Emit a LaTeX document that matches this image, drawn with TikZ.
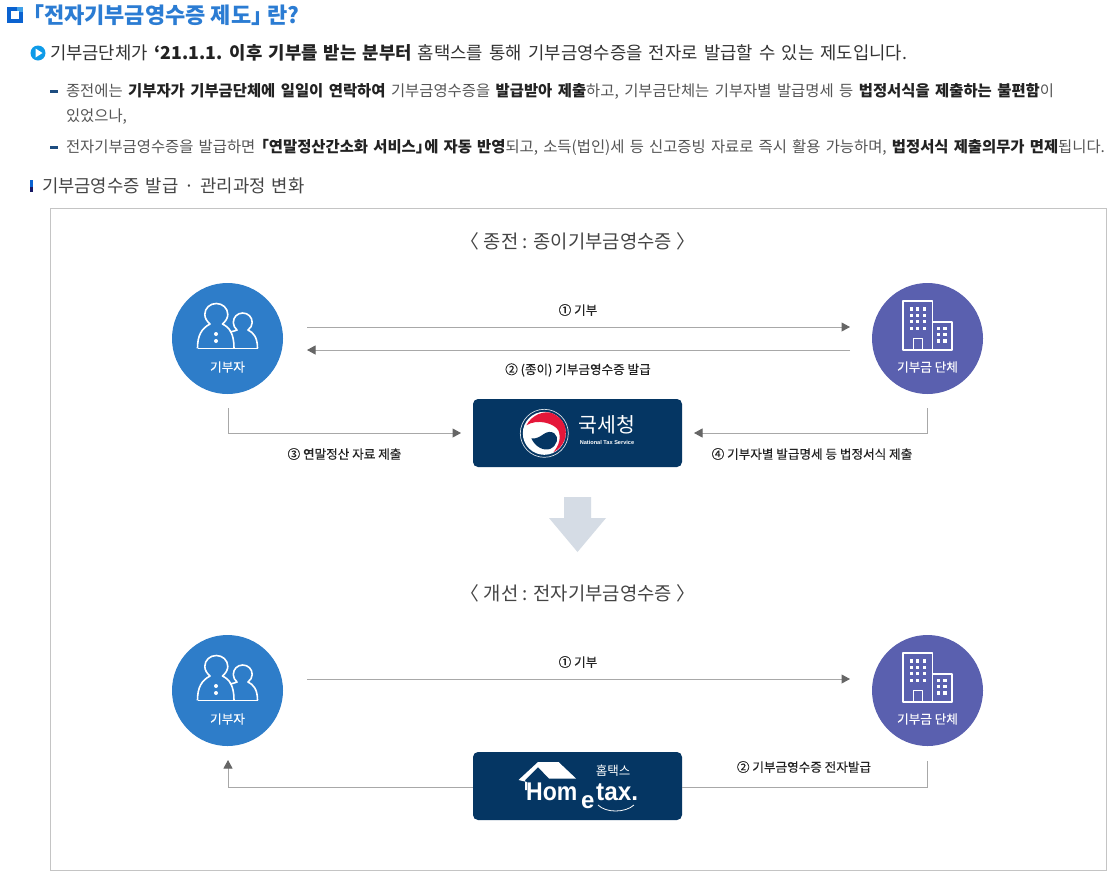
\documentclass[tikz,border=0pt]{standalone}
\usepackage{fontspec}
\setmainfont{Noto Sans CJK KR}
\newfontfamily\medfont{Noto Sans CJK KR}[FakeBold=0.25]
\newfontfamily\latinb{Liberation Sans}[BoldFont={Liberation Sans Bold}]
\usetikzlibrary{arrows.meta}
\definecolor{headblue}{HTML}{2B7CD3}
\definecolor{squareblue}{HTML}{0A62D0}
\definecolor{squarelight}{HTML}{3FA0E8}
\definecolor{bulletblue}{HTML}{0E9BE8}
\definecolor{dashblue}{HTML}{1D4D80}
\definecolor{bodygray}{HTML}{555555}
\definecolor{titlegray}{HTML}{444444}
\definecolor{darktext}{HTML}{222222}
\definecolor{panelline}{HTML}{C4C4C4}
\definecolor{donorblue}{HTML}{2E7DC9}
\definecolor{orgpurple}{HTML}{5A60AF}
\definecolor{navy}{HTML}{053663}
\definecolor{linegray}{HTML}{A8A8A8}
\definecolor{tipgray}{HTML}{666666}
\definecolor{bigarrow}{HTML}{D5DCE5}
\definecolor{tgred}{HTML}{E5173A}
\newcommand{\bb}[1]{{\bfseries\color{darktext}#1}}
\tikzset{
  x=1pt,y=-1pt,
  txt/.style={anchor=base west,inner sep=0pt,outer sep=0pt},
  bodyl/.style={txt,font=\fontsize{15.4}{18}\selectfont\spaceskip 5.5pt\relax,text=bodygray},
  circ/.style={circle,minimum size=111pt,inner sep=0pt},
  clabel/.style={anchor=center,inner sep=0pt,text=white,font=\medfont\fontsize{12.6}{14}\selectfont},
  plabel/.style={anchor=center,inner sep=0pt,text=darktext,font=\medfont\fontsize{12.6}{14}\selectfont},
  ptitle/.style={anchor=center,inner sep=0pt,text=titlegray,font=\fontsize{18.8}{20}\selectfont},
  logobox/.style={fill=navy,rounded corners=5pt,minimum width=209pt,minimum height=68pt,inner sep=0pt},
  conn/.style={draw=linegray,line width=1pt},
  tipped/.style={conn,-{Triangle[length=8.5pt,width=9pt,fill=tipgray,color=tipgray]}},
  iconline/.style={draw=white,line width=1.6pt,line join=round},
}
\newcommand{\donoricon}[2]{%
\begin{scope}[shift={(#1,#2)}]
 \draw[iconline] (-30,9.8) -- (30,9.8);
 \draw[iconline] (-30,9.8) .. controls (-30,-3) and (-26,-10) .. (-17.5,-14.5)
   .. controls (-20.5,-17) and (-22.7,-20.5) .. (-22.7,-24)
   .. controls (-22.7,-30.5) and (-17.5,-35) .. (-11.2,-35)
   .. controls (-5,-35) and (0.3,-30.5) .. (0.3,-24)
   .. controls (0.3,-20.5) and (-2,-17) .. (-5,-14.5)
   .. controls (2,-11) and (6.5,-5) .. (6.5,9.8);
 \draw[iconline] (2.5,-6.5) .. controls (5,-7) and (7,-7.5) .. (9.5,-8.5)
   .. controls (7.3,-10.5) and (5.8,-13) .. (5.8,-16)
   .. controls (5.8,-21.5) and (10,-25.5) .. (15.2,-25.5)
   .. controls (20.5,-25.5) and (24.7,-21.5) .. (24.7,-16)
   .. controls (24.7,-13) and (23,-10.5) .. (20.5,-8.5)
   .. controls (26,-6) and (30,-1) .. (30,9.8);
 \fill[white] (-11.5,-4.5) circle (2pt) (-11.5,2.5) circle (2pt);
\end{scope}}
\newcommand{\orgicon}[2]{%
\begin{scope}[shift={(#1,#2)}]
 \draw[iconline] (-24.8,-37.8) rectangle (4.8,11.5);
 \draw[iconline] (4.8,-16.8) rectangle (24.5,11.5);
 \draw[iconline] (-14.2,11.5) -- (-14.2,-0.2) -- (-5.2,-0.2) -- (-5.2,11.5);
 \foreach \xx in {-18,-11.5,-4.8}{\foreach \yy in {-31.2,-24.5,-18.5,-11.8}{
   \fill[white] (\xx,\yy) rectangle ++(3.4,3.4);}}
 \foreach \xx in {9.2,15.8}{\foreach \yy in {-11.8,-5.8,0.8}{
   \fill[white] (\xx,\yy) rectangle ++(3.4,3.4);}}
\end{scope}}
\begin{document}
\begin{tikzpicture}
\useasboundingbox (0,0) rectangle (1110,876);
\fill[white] (0,0) rectangle (1110,876);
% header decorations
\fill[squareblue] (7,7) rectangle (23,23);
\fill[squarelight] (17,7) rectangle (23,12);
\fill[white] (11,11) rectangle (18.5,18.5);
\fill[bulletblue] (38,53) circle (7.5pt);
\fill[white] (35.5,48.5) -- (42.5,53) -- (35.5,57.5) -- cycle;
\fill[dashblue] (50,90) rectangle (58,92.5);
\fill[dashblue] (50,146) rectangle (58,148.5);
\fill[squareblue] (30,180) rectangle (33,187);
\fill[darktext!70!blue] (30,187) rectangle (33,192);
% texts
\node[txt,text=headblue,font=\fontsize{22}{24}\selectfont\bfseries] (h1) at (22,23) {「전자기부금영수증 제도」\hspace{-6pt}란?};
\node[txt,text=bodygray!60!black,font=\fontsize{17.75}{20}\selectfont\spaceskip 6.2pt\relax] (l1) at (50,59) {기부금단체가 \bb{‘21.1.1. 이후 기부를 받는 분부터} 홈택스를 통해 기부금영수증을 전자로 발급할 수 있는 제도입니다.};
\node[bodyl] (l2) at (66,96) {종전에는 \bb{기부자가 기부금단체에 일일이 연락하여} 기부금영수증을 \bb{발급받아 제출}하고, 기부금단체는 기부자별 발급명세 등 \bb{법정서식을 제출하는 불편함}이};
\node[bodyl] (l3) at (66,121) {있었으나,};
\node[bodyl,font=\fontsize{15.4}{18}\selectfont\spaceskip 5.2pt\relax] (l4) at (66,152) {전자기부금영수증을 발급하면 \hspace{-7pt}\bb{「연말정산간소화 서비스」\hspace{-7pt}에 자동 반영}되고, 소득(법인)세 등 신고증빙 자료로 즉시 활용 가능하며, \bb{법정서식 제출의무가 면제}됩니다.};
\node[txt,text=titlegray,font=\fontsize{17.75}{20}\selectfont\spaceskip 6pt\relax] (l5) at (42,192) {기부금영수증 발급 · 관리과정 변화};
% panel
\draw[panelline,line width=1pt] (50.5,208.5) rectangle (1106,870.5);
\node[ptitle] (t1) at (578,241) {〈 종전 : 종이기부금영수증 〉};
\node[ptitle] (t2) at (578,593) {〈 개선 : 전자기부금영수증 〉};
% nodes
\node[circ,fill=donorblue] (d1) at (227.5,338.5) {};
\node[circ,fill=orgpurple] (o1) at (927.5,338.5) {};
\node[circ,fill=donorblue] (d2) at (227.5,690.5) {};
\node[circ,fill=orgpurple] (o2) at (927.5,690.5) {};
\donoricon{227.5}{338.5}
\donoricon{227.5}{690.5}
\orgicon{927.5}{338.5}
\orgicon{927.5}{690.5}
\node[clabel] (dl1) at (227.5,367) {기부자};
\node[clabel] (ol1) at (927.5,367) {기부금 단체};
\node[clabel] (dl2) at (227.5,719) {기부자};
\node[clabel] (ol2) at (927.5,719) {기부금 단체};
\node[logobox] (nts) at (577.5,433) {};
\node[logobox] (ht) at (577.5,786) {};
% NTS logo
\begin{scope}[shift={(544.3,433.3)}]
\draw[white!85!navy,line width=.7pt] (0,0) circle (24pt);
\fill[white] (0,0) circle (21.5pt);
\fill[navy] (-13,5) .. controls (-8,6) and (-4,3) .. (-1,1)
  .. controls (3,-2) and (7,-2) .. (10,0)
  .. controls (15,4) and (13,12) .. (6,15.5)
  .. controls (0,18) and (-9,14) .. (-13,5) -- cycle;
\fill[tgred] (-18,-8) .. controls (-12,-19) and (0,-23) .. (8,-20)
  .. controls (20,-15) and (23.5,-4) .. (20.5,6)
  .. controls (18.5,12) and (14,16.5) .. (9,19)
  .. controls (15,12) and (17,4) .. (14,-3)
  .. controls (10,-10) and (-7,-15) .. (-18,-8) -- cycle;
\end{scope}
\node[anchor=center,inner sep=0pt,text=white,font=\fontsize{20.5}{22}\selectfont] (ntsk) at (607,425) {국세청};
\node[anchor=center,inner sep=0pt,text=white,font=\latinb\fontsize{5.6}{6}\selectfont\bfseries] (ntse) at (607,442.5) {National Tax Service};
% Hometax logo
\fill[white] (518.5,780) -- (538,762) -- (558.5,762) -- (576,778.5) -- (549,778.5) -- (538,767) -- (525,780) -- (525,790) -- (527,790) -- (527,782) -- cycle;
\node[anchor=base west,inner sep=0pt,text=white,font=\latinb\fontsize{25.6}{26}\selectfont\bfseries] (hh) at (526,800) {\scalebox{.9}[1]{Hom}};
\node[anchor=base west,inner sep=0pt,text=white,font=\latinb\fontsize{24}{26}\selectfont\bfseries] (he) at (581,808) {e};
\node[anchor=base west,inner sep=0pt,text=white,font=\latinb\fontsize{25.6}{26}\selectfont\bfseries] (ht2) at (596,800) {\scalebox{.95}[1]{tax.}};
\draw[white,line width=.8pt] (598,805) .. controls (606,813) and (625,813) .. (634,805);
\node[anchor=center,inner sep=0pt,text=white,font=\fontsize{12.5}{14}\selectfont] (hk) at (613,771) {홈택스};
% connector coordinates
\coordinate (a1s) at (307,327); \coordinate (a1e) at (850,327);
\coordinate (a2s) at (850,350); \coordinate (a2e) at (307,350);
\coordinate (a3s) at (228,408); \coordinate (a3m) at (228,433); \coordinate (a3e) at (461,433);
\coordinate (a4s) at (927,408); \coordinate (a4m) at (927,433); \coordinate (a4e) at (694,433);
\coordinate (b1s) at (307,679); \coordinate (b1e) at (850,679);
\coordinate (b2m) at (228,787); \coordinate (b2e) at (228,760);
\coordinate (b3m) at (927,787); \coordinate (b3e) at (927,761);
\draw[tipped] (a1s) -- (a1e);
\draw[tipped] (a2s) -- (a2e);
\draw[tipped] (a3s) -- (a3m) -- (a3e);
\draw[tipped] (a4s) -- (a4m) -- (a4e);
\draw[tipped] (b1s) -- (b1e);
\draw[tipped] (ht.west |- b2m) -- (b2m) -- (b2e);
\draw[conn] (ht.east |- b3m) -- (b3m) -- (b3e);
% labels
\node[plabel] (p1) at (578,310) {① 기부};
\node[plabel] (p2) at (578,370) {② (종이) 기부금영수증 발급};
\node[plabel] (p3) at (344.5,454) {③ 연말정산 자료 제출};
\node[plabel] (p4) at (812,454) {④ 기부자별 발급명세 등 법정서식 제출};
\node[plabel] (p5) at (578,662) {① 기부};
\node[plabel] (p6) at (804,767) {② 기부금영수증 전자발급};
% big arrow
\fill[bigarrow] (564,497) -- (591,497) -- (591,518) -- (606,518) -- (577.5,552) -- (549,518) -- (564,518) -- cycle;
\end{tikzpicture}
\end{document}
